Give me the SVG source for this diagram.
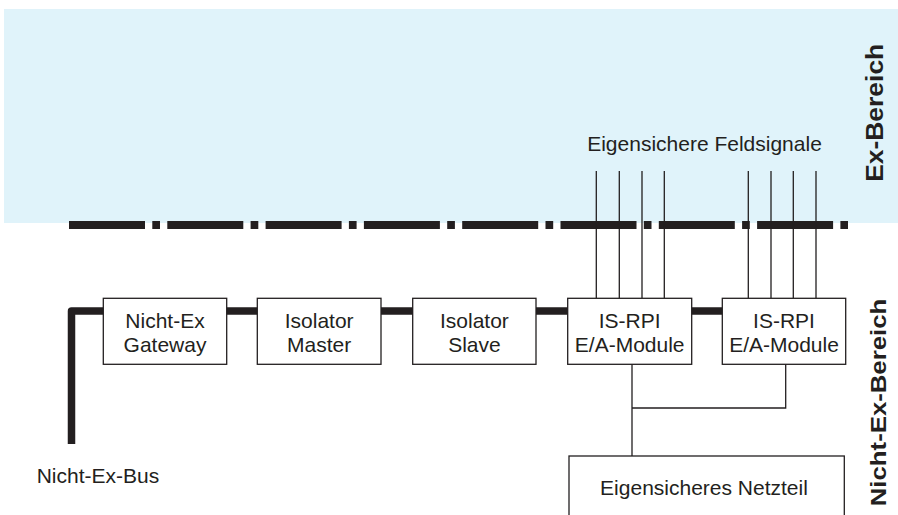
<svg xmlns="http://www.w3.org/2000/svg" width="898" height="515" viewBox="0 0 898 515">
<style>
.t{font-family:"Liberation Sans",Arial,sans-serif;font-size:21px;fill:#231f20}
.c{text-anchor:middle}
.b{font-family:"Liberation Sans",Arial,sans-serif;font-size:23px;font-weight:bold;fill:#231f20;text-anchor:middle}
.box{fill:#fff;stroke:#231f20;stroke-width:1.3}
.thin{fill:none;stroke:#231f20;stroke-width:1.3}
.bus{fill:none;stroke:#231f20;stroke-width:7.5;stroke-linejoin:round}
</style>
<rect id="ex-zone" x="4" y="9" width="894" height="214" fill="#e0f3fa"/>
<g id="boundary">
<line x1="69" y1="225" x2="848" y2="225" stroke="#231f20" stroke-width="8" stroke-dasharray="76 7.3 7.7 7.3"/>
</g>
<text class="t c" x="704.5" y="150.7">Eigensichere Feldsignale</text>
<text class="b" transform="translate(883,112.8) rotate(-90) scale(1.15,1)">Ex-Bereich</text>
<text class="b" transform="translate(886,402.5) rotate(-90) scale(1.12,1)">Nicht-Ex-Bereich</text>
<text class="t" x="36.7" y="483.3">Nicht-Ex-Bus</text>
<g id="connectors">
<path class="bus" d="M71.5,444 V311 H722"/>
<path class="thin" d="M596.3,171 V298 M619.3,171 V298 M642,171 V298 M664.3,171 V298"/>
<path class="thin" d="M748.3,171 V298 M771,171 V298 M793.3,171 V298 M816,171 V298"/>
<path class="thin" d="M632,364 V456 M632,408 H785.7 V364"/>
</g>
<g id="gateway">
<rect class="box" x="103.3" y="298.3" width="123.4" height="66"/>
<text class="t c" x="165" y="328.3">Nicht-Ex</text>
<text class="t c" x="165" y="351.7">Gateway</text>
</g>
<g id="isolator-master">
<rect class="box" x="257.3" y="298.3" width="123.7" height="66"/>
<text class="t c" x="319.2" y="328.3">Isolator</text>
<text class="t c" x="319.2" y="351.7">Master</text>
</g>
<g id="isolator-slave">
<rect class="box" x="412.7" y="298.3" width="123.3" height="66"/>
<text class="t c" x="474.4" y="328.3">Isolator</text>
<text class="t c" x="474.4" y="351.7">Slave</text>
</g>
<g id="is-rpi-1">
<rect class="box" x="567.7" y="298.3" width="124" height="66"/>
<text class="t c" x="629.7" y="328.3">IS-RPI</text>
<text class="t c" x="629.7" y="351.7">E/A-Module</text>
</g>
<g id="is-rpi-2">
<rect class="box" x="722.3" y="298.3" width="123.4" height="66"/>
<text class="t c" x="784" y="328.3">IS-RPI</text>
<text class="t c" x="784" y="351.7">E/A-Module</text>
</g>
<g id="netzteil">
<rect class="box" x="569" y="456" width="275.3" height="70"/>
<text class="t c" x="704" y="495">Eigensicheres Netzteil</text>
</g>
</svg>
